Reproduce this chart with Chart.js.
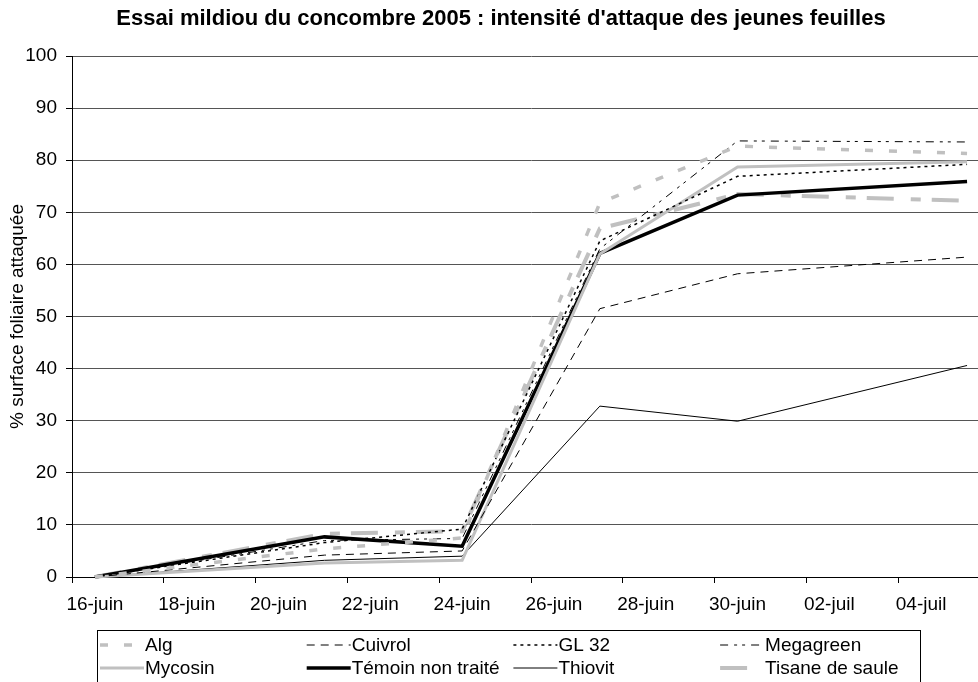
<!DOCTYPE html>
<html>
<head>
<meta charset="utf-8">
<script src="https://cdn.jsdelivr.net/npm/chart.js@4.4.0/dist/chart.umd.min.js"></script>
<style>
  html, body { margin: 0; padding: 0; background: #fff; overflow: hidden; }
  canvas { display: block; }
</style>
</head>
<body>
<canvas id="myChart" width="990" height="682"></canvas>
<script>
const chartTitle = "Essai mildiou du concombre 2005 : intensité d'attaque des jeunes feuilles";
const yAxisTitle = '% surface foliaire attaquée';

// dates des notations
const startDate = '2005-06-16';
const sampleDates = ['2005-06-16', '2005-06-21', '2005-06-24', '2005-06-27', '2005-06-30', '2005-07-05'];
const tickLabels = ['16-juin', '18-juin', '20-juin', '22-juin', '24-juin', '26-juin', '28-juin', '30-juin', '02-juil', '04-juil'];

// % surface foliaire attaquée, une liste par modalité
const alg       = [0, 5.4, 7.5, 71.8, 82.7, 81.3];
const cuivrol   = [0, 4.2, 5.0, 51.5, 58.2, 61.4];
const gl32      = [0, 6.6, 9.2, 64.5, 76.9, 79.2];
const megagreen = [0, 7.0, 7.4, 63.0, 83.7, 83.5];
const mycosin   = [0, 2.7, 3.2, 62.0, 78.7, 79.7];
const temoin    = [0, 7.7, 5.9, 62.1, 73.3, 75.9];
const thiovit   = [0, 3.2, 4.0, 32.8, 29.9, 40.6];
const tisane    = [0, 8.3, 8.8, 66.9, 73.5, 72.2];

const FONT = '"Liberation Sans", Arial, sans-serif';
const GRAY = '#c0c0c0';

// position en jours depuis le 16-juin, au milieu de la case du jour
function dayPos(d) {
  return (Date.parse(d) - Date.parse(startDate)) / 86400000 + 0.5;
}

function series(label, values, color, width, dash) {
  return {
    label: label,
    data: sampleDates.map((d, i) => ({ x: dayPos(d), y: values[i] })),
    borderColor: color,
    backgroundColor: color,
    borderWidth: width,
    borderDash: dash,
    pointRadius: 0,
    tension: 0,
    clip: false,
    fill: false
  };
}

const datasets = [
  series('Alg', alg, GRAY, 3.5, [8, 16]),
  series('Cuivrol', cuivrol, '#000', 1, [8, 6]),
  series('GL 32', gl32, '#000', 1.5, [3, 4]),
  series('Megagreen', megagreen, '#000', 1, [8, 6, 3, 5, 3, 6]),
  series('Mycosin', mycosin, GRAY, 3, []),
  series('Témoin non traité', temoin, '#000', 3.5, []),
  series('Thiovit', thiovit, '#000', 1, []),
  series('Tisane de saule', tisane, GRAY, 4, [27, 17, 10, 11])
];

// titre + légende en grille 4 x 2, comme dans le graphique d'origine
const decorPlugin = {
  id: 'decor',
  afterDraw(chart) {
    const ctx = chart.ctx;
    ctx.save();
    ctx.fillStyle = '#000';
    ctx.font = 'bold 22px ' + FONT;
    ctx.textAlign = 'center';
    ctx.textBaseline = 'middle';
    ctx.fillText(chartTitle, 501, 19);

    // cadre de la légende
    ctx.strokeStyle = '#000';
    ctx.lineWidth = 1;
    ctx.setLineDash([]);
    ctx.strokeRect(97.5, 630.5, 823, 80);

    ctx.font = '19px ' + FONT;
    ctx.textAlign = 'left';
    chart.data.datasets.forEach((ds, i) => {
      const col = i % 4;
      const row = Math.floor(i / 4);
      const x0 = 100 + col * 206.7;
      const y = 646 + row * 23;
      ctx.beginPath();
      ctx.strokeStyle = ds.borderColor;
      ctx.lineWidth = ds.borderWidth;
      ctx.setLineDash(ds.borderDash);
      ctx.moveTo(x0, y - 1);
      ctx.lineTo(x0 + 44, y - 1);
      ctx.stroke();
      ctx.setLineDash([]);
      ctx.fillStyle = '#000';
      ctx.fillText(ds.label, x0 + 45, y);
    });
    ctx.restore();
  }
};

const config = {
  type: 'line',
  data: { datasets: datasets },
  options: {
    responsive: false,
    animation: false,
    layout: { padding: { top: 56, left: 0, right: 0, bottom: 0 } },
    plugins: {
      legend: { display: false },
      title: { display: false },
      tooltip: { enabled: false }
    },
    scales: {
      x: {
        type: 'linear',
        min: 0,
        max: 20,
        afterFit(s) {
          s.height = 105;
          s.paddingLeft = 0;
          s.paddingRight = 0;
        },
        ticks: {
          stepSize: 2,
          autoSkip: false,
          maxRotation: 0,
          labelOffset: 22.9,
          padding: 10,
          color: '#000',
          font: { family: FONT, size: 19 },
          callback: (v) => tickLabels[v / 2] || ''
        },
        grid: { drawOnChartArea: false, drawTicks: true, tickLength: 6, tickColor: '#000' },
        border: { display: true, color: '#000', width: 1 }
      },
      y: {
        min: 0,
        max: 100,
        afterFit(s) { s.width = 72; },
        ticks: {
          stepSize: 10,
          padding: 9,
          color: '#000',
          font: { family: FONT, size: 19 }
        },
        grid: { color: '#555', lineWidth: 1, tickLength: 6, tickColor: '#000' },
        border: { display: true, color: '#000', width: 1 },
        title: {
          display: true,
          text: yAxisTitle,
          color: '#000',
          font: { family: FONT, size: 19 },
          padding: { top: 6, bottom: 0 }
        }
      }
    }
  },
  plugins: [decorPlugin]
};

const myChart = new Chart(document.getElementById('myChart'), config);
</script>
</body>
</html>
